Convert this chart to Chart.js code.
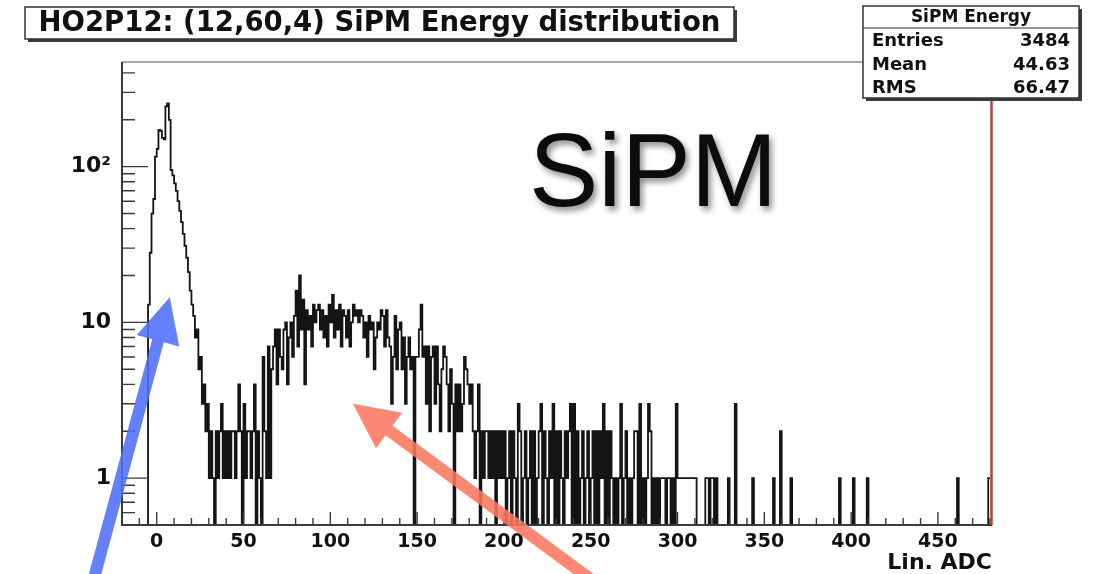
<!DOCTYPE html>
<html>
<head>
<meta charset="utf-8">
<title>SiPM Energy distribution</title>
<script src="https://cdn.jsdelivr.net/npm/chart.js@4.4.1/dist/chart.umd.min.js"></script>
<style>
  html, body { margin: 0; padding: 0; background: #fff; }
  #wrap { position: relative; width: 1093px; height: 574px; }
</style>
</head>
<body>
<div id="wrap"><canvas id="sipmHist" width="1093" height="574"></canvas></div>
<script>
// histogram binning (Lin. ADC), one count per 1-ADC bin starting at -20
const binLow = -20;
const binWidth = 1;

// bins -20 .. 39 : pedestal peak
const peakCounts = [
  0, 0, 0, 0, 0, 0, 0, 0, 0, 0, 0, 0, 0, 0, 0,
  13, 28, 50, 62, 116, 130, 172, 170, 153, 150, 244, 255, 200, 95, 88,
  78, 70, 60, 52, 44, 37, 31, 26, 21, 16,
  13, 11, 8, 9, 5, 6, 3, 4, 2, 3,
  1, 2, 1, 0, 2, 1, 2, 3, 1, 2
];

// bins 40 .. 199 : signal bump
const bumpCounts = [
  1, 2, 1, 2, 2, 1, 2, 4, 2, 0,
  3, 1, 2, 2, 1, 2, 4, 0, 2, 1,
  0, 6, 2, 1, 7, 1, 5, 7, 9, 4,
  9, 6, 5, 9, 10, 4, 8, 10, 6, 11,
  16, 7, 20, 9, 14, 4, 12, 9, 11, 7,
  13, 10, 12, 13, 9, 12, 8, 11, 7, 13,
  10, 15, 8, 12, 9, 13, 7, 12, 11, 8,
  12, 7, 10, 13, 11, 12, 10, 12, 11, 8,
  10, 6, 11, 9, 10, 5, 8, 10, 9, 12,
  11, 7, 12, 8, 7, 3, 6, 11, 5, 9,
  10, 5, 8, 3, 6, 8, 5, 6, 0, 6,
  6, 9, 13, 6, 7, 3, 7, 2, 6, 7,
  3, 7, 4, 2, 5, 7, 6, 4, 2, 5,
  3, 0, 4, 2, 4, 2, 3, 6, 5, 4,
  3, 4, 2, 1, 2, 4, 0, 2, 1, 2,
  2, 1, 2, 1, 2, 0, 2, 1, 2, 1
];

// bins 200 .. 479 : tail
const tailCounts = [
  2, 0, 1, 2, 0, 2, 1, 0, 3, 2,  0, 1, 2, 0, 1, 2, 0, 2, 0, 1,
  2, 3, 0, 2, 1, 0, 2, 1, 3, 0,  2, 0, 2, 1, 0, 2, 1, 2, 3, 0,
  3, 0, 2, 0, 1, 2, 0, 1, 2, 0,
  1, 2, 0, 2, 0, 2, 1, 3, 0, 2,  0, 2, 1, 0, 1, 0, 1, 3, 0, 1,
  2, 0, 1, 0, 1, 2, 2, 0, 3, 0,  1, 0, 1, 3, 2, 0, 1, 0, 1, 0,
  1, 1, 1, 0, 1, 1, 0, 1, 0, 3,
  1, 1, 1, 1, 1, 1, 1, 1, 1, 1,  1, 0, 0, 0, 0, 0, 1, 1, 0, 1,
  1, 0, 1, 0, 0, 0, 0, 0, 0, 1,  0, 0, 0, 3, 0, 0, 0, 0, 0, 0,
  0, 0, 0, 1, 0, 0, 0, 0, 0, 0,
  0, 0, 0, 0, 0, 1, 0, 0, 0, 2,  0, 0, 0, 0, 0, 1, 0, 0, 0, 0,
  0, 0, 0, 0, 0, 0, 0, 0, 0, 0,  0, 0, 0, 0, 0, 0, 0, 0, 0, 0,
  0, 0, 0, 1, 0, 0, 0, 0, 0, 0,
  0, 1, 0, 0, 0, 0, 0, 0, 0, 1,  0, 0, 0, 0, 0, 0, 0, 0, 0, 0,
  0, 0, 0, 0, 0, 0, 0, 0, 0, 0,  0, 0, 0, 0, 0, 0, 0, 0, 0, 0,
  0, 0, 0, 0, 0, 0, 0, 0, 0, 0,
  0, 0, 0, 0, 0, 0, 0, 0, 0, 0,  0, 1, 0, 0, 0, 0, 0, 0, 0, 0,
  0, 0, 0, 0, 0, 0, 0, 0, 0, 1
];

const xRange = [-20, 480];
const yRange = [0.5, 470];
const xTickValues = [0, 50, 100, 150, 200, 250, 300, 350, 400, 450];
const xMinorStep = 10;
const xMajorStep = 50;
const yLabelText = { 1: '1', 10: '10', 100: '10\u00B2' };

const histTitle = 'HO2P12: (12,60,4) SiPM Energy distribution';
const statsTitle = 'SiPM Energy';
const statsNames = ['Entries', 'Mean', 'RMS'];
const statsValues = ['3484', '44.63', '66.47'];
const xAxisTitle = 'Lin. ADC';
const bigLabel = 'SiPM';

// arrows drawn on top, ends given in (ADC, counts)
const arrowNotes = [
  { from: [-36.5, 0.22], to: [7.5, 14.5], color: 'rgba(78,110,250,0.88)' },
  { from: [251, 0.22], to: [113, 3.0], color: 'rgba(252,118,96,0.88)' }
];

const rootFont = '"DejaVu Sans", "Liberation Sans", sans-serif';

// empty bins sit below the log axis and get clipped at the frame
const counts = peakCounts.concat(bumpCounts, tailCounts);
const emptyLevel = 0.3;
const histPoints = counts.map((c, i) => ({ x: binLow + i * binWidth, y: c > 0 ? c : emptyLevel }));
histPoints.push({ x: binLow + counts.length * binWidth, y: histPoints[histPoints.length - 1].y });

function yTickValues() {
  const out = [];
  for (let e = -1; e <= 2; e++) {
    for (let k = 1; k <= 9; k++) {
      const v = k * Math.pow(10, e);
      if (v >= yRange[0] && v <= yRange[1]) out.push({ value: +v.toPrecision(3) });
    }
  }
  return out;
}

function drawBox(ctx, l, t, r, b) {
  ctx.fillStyle = '#3c3c3c';
  ctx.fillRect(l + 3, t + 3, r - l, b - t);
  ctx.fillStyle = '#fff';
  ctx.fillRect(l, t, r - l, b - t);
  ctx.strokeStyle = '#333';
  ctx.lineWidth = 1.5;
  ctx.strokeRect(l, t, r - l, b - t);
}

function drawArrow(ctx, x0, y0, x1, y1, color) {
  const dx = x1 - x0, dy = y1 - y0;
  const len = Math.hypot(dx, dy);
  const ux = dx / len, uy = dy / len;
  const px = -uy, py = ux;
  const headLen = 45, headHalf = 22, shaft = 12;
  const bx = x1 - ux * headLen, by = y1 - uy * headLen;
  ctx.fillStyle = color;
  ctx.beginPath();
  ctx.moveTo(x0 + px * shaft / 2, y0 + py * shaft / 2);
  ctx.lineTo(bx + px * shaft / 2, by + py * shaft / 2);
  ctx.lineTo(bx + px * headHalf, by + py * headHalf);
  ctx.lineTo(x1, y1);
  ctx.lineTo(bx - px * headHalf, by - py * headHalf);
  ctx.lineTo(bx - px * shaft / 2, by - py * shaft / 2);
  ctx.lineTo(x0 - px * shaft / 2, y0 - py * shaft / 2);
  ctx.closePath();
  ctx.fill();
}

const titleBox = { l: 25, t: 7, r: 734, b: 39 };
const statsBox = { l: 863, t: 6, r: 1079, b: 98, head: 28 };

const rootPad = {
  id: 'rootPad',
  afterDatasetsDraw(chart) {
    const { ctx, chartArea: a, scales: { x, y } } = chart;
    ctx.save();
    // ticks pointing into the frame
    ctx.strokeStyle = '#3a3a3a';
    ctx.lineWidth = 1.4;
    ctx.beginPath();
    for (let v = xRange[0]; v <= xRange[1]; v += xMinorStep) {
      const px = x.getPixelForValue(v);
      const len = v % xMajorStep === 0 ? 13 : 7;
      ctx.moveTo(px, a.bottom);
      ctx.lineTo(px, a.bottom - len);
    }
    yTickValues().forEach(t => {
      const py = y.getPixelForValue(t.value);
      const major = yLabelText[t.value] !== undefined;
      ctx.moveTo(a.left, py);
      ctx.lineTo(a.left + (major ? 26 : 13), py);
    });
    ctx.stroke();

    // frame
    ctx.lineWidth = 1.5;
    ctx.strokeStyle = '#8a8a8a';
    ctx.beginPath();
    ctx.moveTo(a.left, a.top);
    ctx.lineTo(statsBox.l, a.top);
    ctx.stroke();
    ctx.lineWidth = 2;
    ctx.strokeStyle = '#3a3a3a';
    ctx.beginPath();
    ctx.moveTo(a.left, a.top);
    ctx.lineTo(a.left, a.bottom);
    ctx.lineTo(a.right + 2, a.bottom);
    ctx.stroke();
    ctx.lineWidth = 2.5;
    ctx.strokeStyle = '#b5403b';
    ctx.beginPath();
    ctx.moveTo(a.right + 1.5, statsBox.b);
    ctx.lineTo(a.right + 1.5, a.bottom);
    ctx.stroke();
    ctx.restore();
  },
  afterDraw(chart) {
    const { ctx, chartArea: a, scales: { x, y } } = chart;
    ctx.save();

    // title pave
    drawBox(ctx, titleBox.l, titleBox.t, titleBox.r, titleBox.b);
    ctx.fillStyle = '#111';
    ctx.font = 'bold 27.5px ' + rootFont;
    ctx.textAlign = 'center';
    ctx.textBaseline = 'middle';
    ctx.fillText(histTitle, (titleBox.l + titleBox.r) / 2, (titleBox.t + titleBox.b) / 2 + 1);

    // stats pave
    drawBox(ctx, statsBox.l, statsBox.t, statsBox.r, statsBox.b);
    ctx.strokeStyle = '#333';
    ctx.lineWidth = 1.2;
    ctx.beginPath();
    ctx.moveTo(statsBox.l, statsBox.head);
    ctx.lineTo(statsBox.r, statsBox.head);
    ctx.stroke();
    ctx.fillStyle = '#111';
    ctx.font = 'bold 17px ' + rootFont;
    ctx.fillText(statsTitle, (statsBox.l + statsBox.r) / 2, (statsBox.t + statsBox.head) / 2 + 1);
    ctx.font = 'bold 18px ' + rootFont;
    const rowH = (statsBox.b - statsBox.head) / statsNames.length;
    statsNames.forEach((name, i) => {
      const ry = statsBox.head + rowH * (i + 0.5) + 2;
      ctx.textAlign = 'left';
      ctx.fillText(name, statsBox.l + 9, ry);
      ctx.textAlign = 'right';
      ctx.fillText(statsValues[i], statsBox.r - 9, ry);
    });

    // axis title
    ctx.font = 'bold 22px ' + rootFont;
    ctx.textAlign = 'right';
    ctx.fillText(xAxisTitle, a.right + 2, a.bottom + 38);

    // big label
    ctx.save();
    ctx.font = '104px "Liberation Sans", Arial, sans-serif';
    ctx.textAlign = 'left';
    ctx.textBaseline = 'alphabetic';
    ctx.shadowColor = 'rgba(0,0,0,0.45)';
    ctx.shadowOffsetX = 3;
    ctx.shadowOffsetY = 4;
    ctx.shadowBlur = 6;
    ctx.fillStyle = '#0c0c0c';
    ctx.fillText(bigLabel, 529, 206);
    ctx.restore();

    // arrows
    arrowNotes.forEach(n => {
      drawArrow(ctx,
        x.getPixelForValue(n.from[0]), y.getPixelForValue(n.from[1]),
        x.getPixelForValue(n.to[0]), y.getPixelForValue(n.to[1]), n.color);
    });
    ctx.restore();
  }
};

const ctx = document.getElementById('sipmHist').getContext('2d');
new Chart(ctx, {
  type: 'line',
  data: {
    datasets: [{
      data: histPoints,
      borderColor: '#141414',
      borderWidth: 1.8,
      pointRadius: 0,
      stepped: 'before',
      fill: false,
      tension: 0
    }]
  },
  options: {
    responsive: false,
    animation: false,
    events: [],
    layout: { padding: { left: 0, right: 103, top: 62, bottom: 0 } },
    plugins: { legend: { display: false }, tooltip: { enabled: false }, title: { display: false } },
    scales: {
      x: {
        type: 'linear',
        min: xRange[0],
        max: xRange[1],
        afterBuildTicks: s => { s.ticks = xTickValues.map(v => ({ value: v })); },
        afterFit: s => { s.height = 49; },
        grid: { display: false, drawTicks: false },
        border: { display: false },
        ticks: {
          autoSkip: false,
          maxRotation: 0,
          padding: 6,
          color: '#111',
          font: { family: rootFont, size: 19, weight: 'bold' }
        }
      },
      y: {
        type: 'logarithmic',
        min: yRange[0],
        max: yRange[1],
        afterBuildTicks: s => { s.ticks = yTickValues(); },
        afterFit: s => { s.width = 122; },
        grid: { display: false, drawTicks: false },
        border: { display: false },
        ticks: {
          autoSkip: false,
          padding: 11,
          color: '#111',
          font: { family: rootFont, size: 22, weight: 'bold' },
          callback: v => yLabelText[v] !== undefined ? yLabelText[v] : ''
        }
      }
    }
  },
  plugins: [rootPad]
});
</script>
</body>
</html>
